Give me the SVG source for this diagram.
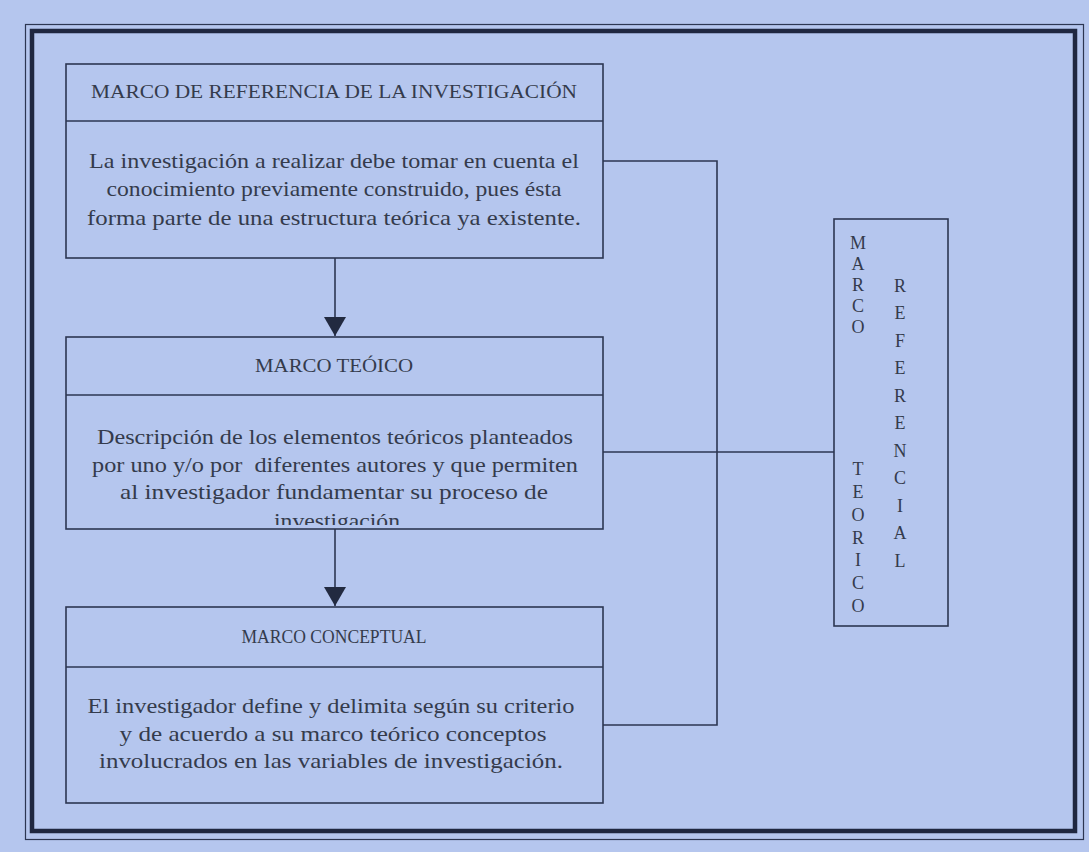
<svg xmlns="http://www.w3.org/2000/svg" width="1089" height="852" viewBox="0 0 1089 852">
<style>
.ln{fill:none;stroke:#2c3652;stroke-width:1.6}
.t{font-family:"Liberation Serif","Times New Roman",serif;fill:#343b4c;text-anchor:middle}
.h{font-size:19px}
.b{font-size:22px}
.v{font-size:18px}
</style>
<defs>
<marker id="ah" markerWidth="20" markerHeight="22" refX="19" refY="11" orient="auto" markerUnits="userSpaceOnUse" viewBox="0 0 20 22">
<path d="M0,0 L19,11 L0,22 Z" fill="#222a40"/>
</marker>
<clipPath id="clip2"><rect x="66" y="395" width="537" height="130"/></clipPath>
</defs>
<rect x="0" y="0" width="1089" height="852" fill="#b5c6ee"/>
<g id="frame">
<rect x="25.5" y="24.5" width="1058" height="815" fill="none" stroke="#2c3652" stroke-width="1.2"/>
<rect x="32" y="31" width="1043" height="800" fill="none" stroke="#1f2740" stroke-width="4.5"/>
</g>
<g id="connectors">
<line class="ln" x1="335" y1="258" x2="335" y2="336" marker-end="url(#ah)"/>
<line class="ln" x1="335" y1="529" x2="335" y2="606" marker-end="url(#ah)"/>
<polyline class="ln" points="603,161 717,161 717,725 603,725"/>
<line class="ln" x1="603" y1="452" x2="834" y2="452"/>
</g>
<g id="node-referencia">
<rect class="ln" x="66" y="64" width="537" height="194"/>
<line class="ln" x1="66" y1="121" x2="603" y2="121"/>
<text class="t h" x="334" y="98" textLength="486" lengthAdjust="spacingAndGlyphs">MARCO DE REFERENCIA DE LA INVESTIGACIÓN</text>
<text class="t b" x="334" y="168" textLength="490" lengthAdjust="spacingAndGlyphs">La investigación a realizar debe tomar en cuenta el</text>
<text class="t b" x="334" y="196" textLength="455" lengthAdjust="spacingAndGlyphs">conocimiento previamente construido, pues ésta</text>
<text class="t b" x="334" y="225" textLength="494" lengthAdjust="spacingAndGlyphs">forma parte de una estructura teórica ya existente.</text>
</g>
<g id="node-teorico">
<rect class="ln" x="66" y="337" width="537" height="192"/>
<line class="ln" x1="66" y1="395" x2="603" y2="395"/>
<text class="t h" x="334" y="372" textLength="158" lengthAdjust="spacingAndGlyphs">MARCO TEÓICO</text>
<text class="t b" x="335" y="444" textLength="476" lengthAdjust="spacingAndGlyphs">Descripción de los elementos teóricos planteados</text>
<text class="t b" x="335" y="472" textLength="486" lengthAdjust="spacingAndGlyphs" xml:space="preserve">por uno y/o por  diferentes autores y que permiten</text>
<text class="t b" x="334" y="499" textLength="428" lengthAdjust="spacingAndGlyphs">al investigador fundamentar su proceso de</text>
<text class="t b" x="337" y="528" textLength="126" lengthAdjust="spacingAndGlyphs" clip-path="url(#clip2)">investigación</text>
</g>
<g id="node-conceptual">
<rect class="ln" x="66" y="607" width="537" height="196"/>
<line class="ln" x1="66" y1="667" x2="603" y2="667"/>
<text class="t h" x="334" y="643" textLength="185" lengthAdjust="spacingAndGlyphs">MARCO CONCEPTUAL</text>
<text class="t b" x="331" y="713" textLength="487" lengthAdjust="spacingAndGlyphs">El investigador define y delimita según su criterio</text>
<text class="t b" x="333" y="741" textLength="427" lengthAdjust="spacingAndGlyphs">y de acuerdo a su marco teórico conceptos</text>
<text class="t b" x="331" y="768" textLength="464" lengthAdjust="spacingAndGlyphs">involucrados en las variables de investigación.</text>
</g>
<g id="node-marco-teorico-referencial">
<rect class="ln" x="834" y="219" width="114" height="407"/>
<text class="t v"><tspan x="858" y="249">M</tspan><tspan x="858" y="270">A</tspan><tspan x="858" y="291">R</tspan><tspan x="858" y="312">C</tspan><tspan x="858" y="333">O</tspan><tspan x="858" y="475">T</tspan><tspan x="858" y="498">E</tspan><tspan x="858" y="521">O</tspan><tspan x="858" y="544">R</tspan><tspan x="858" y="566">I</tspan><tspan x="858" y="589">C</tspan><tspan x="858" y="612">O</tspan></text>
<text class="t v"><tspan x="900" y="292">R</tspan><tspan x="900" y="319">E</tspan><tspan x="900" y="347">F</tspan><tspan x="900" y="374">E</tspan><tspan x="900" y="402">R</tspan><tspan x="900" y="429">E</tspan><tspan x="900" y="457">N</tspan><tspan x="900" y="484">C</tspan><tspan x="900" y="512">I</tspan><tspan x="900" y="539">A</tspan><tspan x="900" y="567">L</tspan></text>
</g>
</svg>
